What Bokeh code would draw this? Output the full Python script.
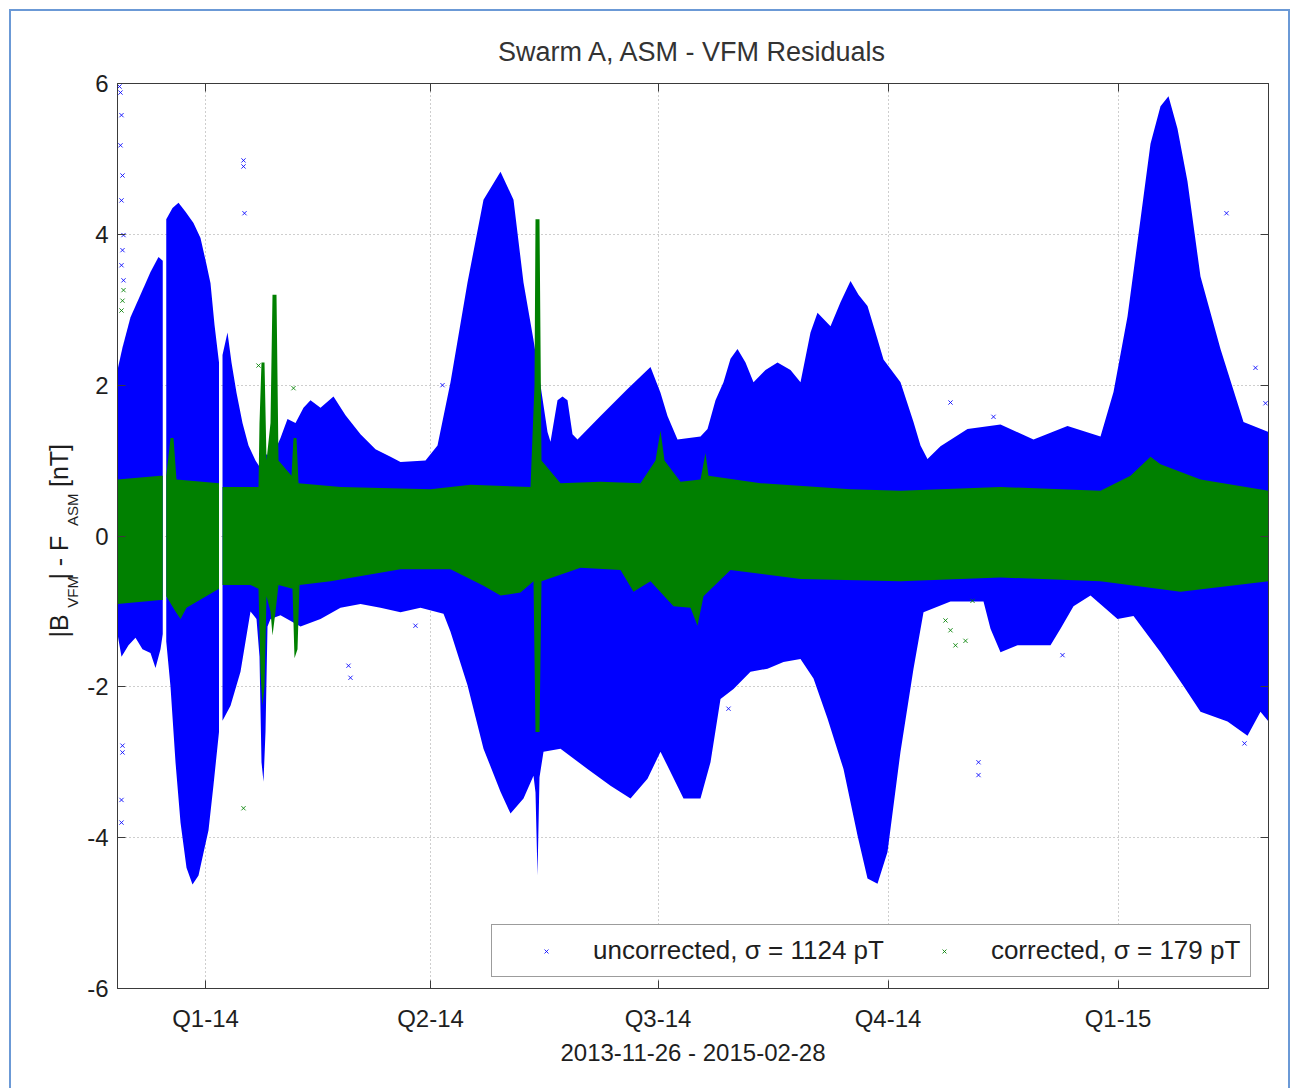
import math
import pandas as pd
from bokeh.plotting import figure
from bokeh.models import FixedTicker, LinearAxis, Legend, LegendItem, Range1d, Title
from bokeh.embed import file_html
from bokeh.resources import INLINE

nan = float("nan")

# ---------------- data (day = days since start_date, value in nT) ----------------
start_date = "2013-11-26"
end_date = "2015-02-28"
quarter_dates = ["2014-01-01", "2014-04-01", "2014-07-01", "2014-10-01", "2015-01-01"]
quarter_labels = ["Q1-14", "Q2-14", "Q3-14", "Q4-14", "Q1-15"]
y_ticks = [-6, -4, -2, 0, 2, 4, 6]
y_tick_labels = ["-6", "-4", "-2", "0", "2", "4", "6"]

title_text = "Swarm A, ASM - VFM Residuals"
series_labels = ["uncorrected, \u03c3 = 1124 pT", "corrected, \u03c3 = 179 pT"]

# upper envelope of the uncorrected (blue) residual cloud (nan = data gap)
blue_upper = [
    (0.8, 2.2), (2.8, 2.5), (6.0, 2.9), (10.0, 3.2), (14.0, 3.5), (17.2, 3.7), (18.9, 3.65), (19.6, nan),
    (20.3, 4.2), (22.8, 4.35), (25.2, 4.42), (28.0, 4.3), (31.2, 4.15), (34.0, 3.95), (36.4, 3.6),
    (38.0, 3.35), (39.6, 2.8), (41.4, 2.3), (42.1, nan), (42.8, 2.4), (44.8, 2.7), (46.4, 2.3),
    (48.4, 1.9), (50.8, 1.5), (53.2, 1.2), (56.0, 1.0), (58.0, 0.9), (60.0, 1.1), (62.0, 1.0),
    (66.0, 1.3), (68.8, 1.55), (72.0, 1.5), (75.2, 1.7), (78.0, 1.8), (82.0, 1.7), (87.2, 1.85),
    (92.0, 1.6), (98.0, 1.35), (104.0, 1.15), (110.0, 1.05), (114.0, 0.98), (124.0, 1.0),
    (128.8, 1.2), (134.0, 2.04), (140.8, 3.36), (147.2, 4.46), (154.0, 4.83), (159.2, 4.46),
    (163.2, 3.36), (167.2, 2.6), (170.0, 2.0), (172.8, 1.38), (174.0, 1.25), (176.8, 1.8),
    (178.8, 1.85), (180.8, 1.8), (182.8, 1.35), (184.8, 1.28), (194.0, 1.59), (204.8, 1.95),
    (214.0, 2.24), (218.0, 1.9), (220.8, 1.59), (224.8, 1.28), (234.0, 1.32), (236.8, 1.42),
    (240.0, 1.8), (243.2, 2.04), (246.0, 2.35), (248.8, 2.48), (252.0, 2.3), (255.2, 2.04),
    (260.0, 2.2), (264.8, 2.3), (270.0, 2.2), (274.0, 2.04), (278.0, 2.7), (280.8, 2.96),
    (286.0, 2.78), (290.0, 3.1), (294.0, 3.38), (297.2, 3.2), (300.8, 3.05), (304.0, 2.7),
    (307.2, 2.34), (314.0, 2.04), (319.2, 1.51), (322.0, 1.2), (324.8, 1.02), (330.0, 1.19),
    (340.8, 1.42), (354.0, 1.48), (367.2, 1.28), (380.8, 1.46), (394.0, 1.32), (399.2, 1.91),
    (404.8, 2.91), (410.0, 4.2), (414.0, 5.2), (418.0, 5.7), (421.2, 5.83), (424.8, 5.4),
    (428.8, 4.7), (434.0, 3.44), (442.0, 2.48), (451.2, 1.51), (461.2, 1.38),
]

# lower envelope of the uncorrected (blue) residual cloud
blue_lower = [
    (0.8, -1.3), (2.4, -1.6), (5.2, -1.45), (8.0, -1.35), (10.8, -1.5), (14.0, -1.55), (16.0, -1.75),
    (18.0, -1.5), (18.9, -1.3), (19.6, nan), (20.3, -1.4), (22.0, -2.0), (24.0, -3.0), (26.0, -3.8),
    (28.4, -4.4), (30.8, -4.62), (33.2, -4.5), (35.2, -4.2), (37.2, -3.9), (39.2, -3.3), (41.4, -2.6),
    (42.1, nan), (42.8, -2.45), (46.0, -2.25), (50.0, -1.8), (54.0, -1.0), (56.4, -1.1),
    (57.6, -1.6), (58.4, -3.0), (59.2, -3.26), (60.0, -2.6), (60.8, -1.2), (62.0, -1.1),
    (66.0, -1.05), (74.0, -1.2), (82.0, -1.1), (90.0, -0.95), (98.0, -0.9), (106.0, -0.95),
    (114.0, -1.01), (122.0, -0.95), (131.2, -1.03), (134.0, -1.27), (140.8, -1.98), (147.2, -2.82),
    (154.0, -3.39), (158.0, -3.68), (163.2, -3.48), (167.2, -3.18), (168.0, -3.4), (168.8, -4.5),
    (169.6, -3.2), (171.2, -2.86), (178.0, -2.82), (188.8, -3.09), (198.0, -3.31), (206.0, -3.48),
    (212.8, -3.22), (218.0, -2.86), (222.0, -3.13), (227.2, -3.48), (234.0, -3.48), (238.0, -3.0),
    (242.0, -2.16), (247.2, -2.03), (254.0, -1.8), (260.8, -1.76), (267.2, -1.67), (274.0, -1.63),
    (279.2, -1.89), (284.8, -2.42), (291.2, -3.09), (296.8, -3.97), (300.8, -4.54), (304.8, -4.61),
    (308.8, -4.19), (314.0, -2.86), (319.2, -1.76), (323.2, -1.01), (334.0, -0.87), (347.2, -0.87),
    (350.0, -1.23), (354.0, -1.54), (360.8, -1.45), (374.0, -1.45), (378.0, -1.23), (383.2, -0.93),
    (390.0, -0.79), (400.8, -1.1), (407.2, -1.06), (418.0, -1.54), (427.2, -1.99), (434.0, -2.33),
    (444.8, -2.46), (452.8, -2.65), (458.0, -2.33), (461.2, -2.46),
]

# upper envelope of the corrected (green) residual cloud
green_upper = [
    (0.8, 0.75), (18.0, 0.8), (18.9, 0.8), (19.6, nan), (20.3, 0.8), (22.0, 1.3), (23.2, 1.3),
    (24.4, 0.75), (41.4, 0.7), (42.1, nan), (42.8, 0.65), (57.2, 0.65), (57.6, 1.5), (58.4, 2.3),
    (59.6, 2.3), (60.4, 1.0), (62.0, 1.5), (62.8, 3.2), (64.4, 3.2), (65.2, 1.0), (70.4, 0.8),
    (71.2, 1.3), (72.4, 1.3), (73.2, 0.7), (90.0, 0.65), (126.0, 0.62), (142.0, 0.68), (166.0, 0.65),
    (167.6, 2.0), (168.0, 4.2), (169.6, 4.2), (170.4, 1.0), (178.0, 0.7), (194.0, 0.72), (210.0, 0.7),
    (216.0, 1.0), (218.0, 1.4), (219.6, 1.0), (226.0, 0.72), (234.0, 0.75), (236.0, 1.1),
    (237.2, 0.8), (258.0, 0.7), (294.0, 0.62), (314.0, 0.6), (354.0, 0.65), (394.0, 0.6),
    (406.0, 0.8), (414.0, 1.05), (418.0, 0.95), (434.0, 0.75), (461.2, 0.6),
]

# lower envelope of the corrected (green) residual cloud
green_lower = [
    (0.8, -0.9), (18.0, -0.85), (18.9, -0.85), (19.6, nan), (20.3, -0.8), (24.0, -1.0), (26.0, -1.1),
    (28.4, -0.95), (41.4, -0.7), (42.1, nan), (42.8, -0.65), (54.0, -0.65), (57.2, -0.7),
    (58.0, -1.8), (58.8, -2.25), (59.6, -2.0), (60.4, -0.8), (62.0, -1.0), (62.8, -1.32),
    (64.0, -1.0), (65.2, -0.65), (70.8, -0.7), (71.6, -1.62), (72.8, -1.5), (73.6, -0.65),
    (86.0, -0.6), (114.0, -0.44), (134.0, -0.44), (147.2, -0.66), (154.0, -0.79), (162.0, -0.75),
    (167.2, -0.6), (168.0, -2.6), (169.6, -2.6), (170.4, -0.6), (186.0, -0.42), (202.0, -0.45),
    (207.2, -0.74), (214.0, -0.6), (223.2, -0.93), (230.0, -0.95), (232.8, -1.19), (235.2, -0.8),
    (246.0, -0.45), (274.0, -0.57), (314.0, -0.6), (354.0, -0.55), (394.0, -0.6), (426.0, -0.74),
    (461.2, -0.6),
]

# isolated residual samples outside the clouds
blue_outliers = [
    (1.6, 5.96), (2.0, 5.88), (2.4, 5.58), (2.0, 5.18), (2.8, 4.78), (2.4, 4.45), (3.2, 3.99),
    (2.8, 3.79), (2.4, 3.59), (3.2, 3.39), (51.2, 4.98), (51.2, 4.9), (51.6, 4.28), (2.8, -2.78),
    (2.8, -2.87), (2.4, -3.5), (2.4, -3.8), (93.2, -1.72), (94.0, -1.88), (130.8, 2.0),
    (120.0, -1.19), (245.2, -2.29), (334.0, 1.77), (351.2, 1.58), (378.8, -1.58), (444.4, 4.28),
    (456.0, 2.23), (460.0, 1.76), (345.2, -3.0), (345.2, -3.17), (451.6, -2.75),
]
green_outliers = [
    (2.8, 3.12), (2.4, 2.99), (3.2, 3.26), (57.2, 2.26), (71.2, 1.96), (51.2, -3.61),
    (332.0, -1.12), (334.0, -1.25), (336.0, -1.45), (340.0, -1.39), (342.8, -0.86),
]


def split(pairs):
    return [a for a, _ in pairs], [b for _, b in pairs]


def segments(pairs):
    segs, cur = [], []
    for d, v in pairs:
        if math.isnan(v):
            if cur:
                segs.append(cur)
            cur = []
        else:
            cur.append((d, v))
    if cur:
        segs.append(cur)
    return segs


quarter_days = [(pd.Timestamp(d) - pd.Timestamp(start_date)).days for d in quarter_dates]

FONT = "Liberation Sans"
TXT = "#1e1e1e"
AX = "#3a3a3a"
BLUE = "#0000ff"
GREEN = "#008000"
NB = "\u00a0"

p = figure(frame_width=1151, frame_height=905,
           x_range=Range1d(0.8, 461.2), y_range=Range1d(-6, 6),
           output_backend="svg", toolbar_location=None, title=title_text,
           min_border_left=106, min_border_right=20, min_border_top=72, min_border_bottom=103)
p.styles = {"margin-left": "9px", "margin-top": "9px", "border": "2px solid #6b99d6"}
p.background_fill_color = "white"
p.border_fill_color = "white"
p.outline_line_color = AX

p.title.align = "center"
p.title.text_font = FONT
p.title.text_font_size = "27px"
p.title.text_font_style = "normal"
p.title.text_color = "#333333"
p.title.standoff = 34

# grid
p.xgrid.ticker = FixedTicker(ticks=quarter_days)
p.ygrid.ticker = FixedTicker(ticks=y_ticks)
p.grid.grid_line_color = "#9c9c9c"
p.grid.grid_line_dash = "1 3"
p.grid.grid_line_width = 1

# axes
p.xaxis.ticker = FixedTicker(ticks=quarter_days)
p.xaxis.major_label_overrides = dict(zip(quarter_days, quarter_labels))
p.yaxis.ticker = FixedTicker(ticks=y_ticks)
p.yaxis.major_label_overrides = dict(zip(y_ticks, y_tick_labels))
p.xaxis.axis_label = f"{start_date} - {end_date}"
p.xaxis.axis_label_text_font = FONT
p.xaxis.axis_label_text_font_size = "24px"
p.xaxis.axis_label_text_font_style = "normal"
p.xaxis.axis_label_text_color = TXT
p.xaxis.axis_label_standoff = 4
p.xaxis.major_label_standoff = 16
p.yaxis.major_label_standoff = 9
for ax in (p.xaxis[0], p.yaxis[0]):
    ax.major_tick_in = 8
    ax.major_tick_out = 0
    ax.minor_tick_line_color = None
    ax.axis_line_color = AX
    ax.major_tick_line_color = AX
    ax.major_label_text_font = FONT
    ax.major_label_text_font_size = "24px"
    ax.major_label_text_color = TXT

# y-axis label |B_VFM| - F_ASM [nT]: subscripts as the axis label, main text as a side title
p.yaxis.axis_label = "VFM" + NB * 12 + "ASM" + NB * 7
p.yaxis.axis_label_text_font = FONT
p.yaxis.axis_label_text_font_size = "15px"
p.yaxis.axis_label_text_font_style = "normal"
p.yaxis.axis_label_text_color = TXT
p.yaxis.axis_label_standoff = 3
ylab_main = Title(text="|B" + NB * 5 + "| - F" + NB * 7 + "[nT]", align="left", offset=351,
                  standoff=-22, text_font=FONT, text_font_size="25px", text_font_style="normal",
                  text_color=TXT)
p.add_layout(ylab_main, "left")

top_axis = LinearAxis(ticker=FixedTicker(ticks=quarter_days),
                      major_label_overrides={d: "" for d in quarter_days})
right_axis = LinearAxis(ticker=FixedTicker(ticks=y_ticks),
                        major_label_overrides={t: "" for t in y_ticks})
for ax in (top_axis, right_axis):
    ax.major_tick_in = 8
    ax.major_tick_out = 0
    ax.minor_tick_line_color = None
    ax.axis_line_color = AX
    ax.major_tick_line_color = AX
    ax.major_label_text_font_size = "0px"
    ax.major_label_standoff = 0
p.add_layout(top_axis, "above")
p.add_layout(right_axis, "right")

# residual clouds
for seg in segments(blue_upper):
    x, y = split(seg)
    p.varea(x=x, y1=[0.0] * len(x), y2=y, fill_color=BLUE)
for seg in segments(blue_lower):
    x, y = split(seg)
    p.varea(x=x, y1=y, y2=[0.0] * len(x), fill_color=BLUE)
ox, oy = split(blue_outliers)
r_blue = p.scatter(x=ox, y=oy, marker="x", size=6, line_color=BLUE, line_width=1, line_alpha=0.85)

for seg in segments(green_upper):
    x, y = split(seg)
    p.varea(x=x, y1=[0.0] * len(x), y2=y, fill_color=GREEN)
for seg in segments(green_lower):
    x, y = split(seg)
    p.varea(x=x, y1=y, y2=[0.0] * len(x), fill_color=GREEN)
ox, oy = split(green_outliers)
r_green = p.scatter(x=ox, y=oy, marker="x", size=6, line_color=GREEN, line_width=1, line_alpha=0.85)

# legend
legend = Legend(items=[LegendItem(label=series_labels[0], renderers=[r_blue]),
                       LegendItem(label=series_labels[1], renderers=[r_green])],
                orientation="horizontal", location=(374, 11))
legend.padding = 10
legend.spacing = 16
legend.glyph_width = 88
legend.glyph_height = 14
legend.label_standoff = 3
legend.margin = 0
legend.label_text_font = FONT
legend.label_text_font_size = "26px"
legend.label_text_color = TXT
legend.border_line_color = AX
legend.border_line_width = 1
legend.background_fill_color = "white"
legend.background_fill_alpha = 1.0
p.add_layout(legend)

open("out.html", "w").write(file_html(p, INLINE))
